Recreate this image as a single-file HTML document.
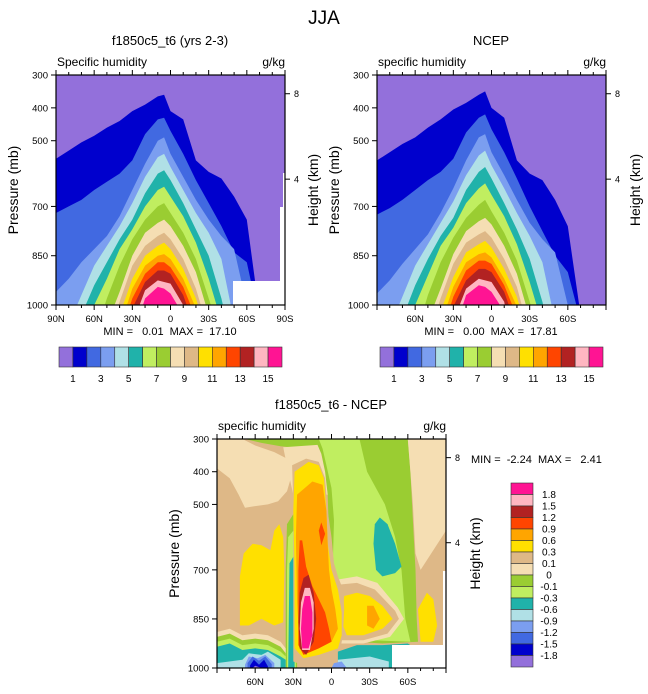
<!DOCTYPE html>
<html><head><meta charset="utf-8">
<style>
html,body{margin:0;padding:0;background:#fff;}
svg{display:block;font-family:"Liberation Sans",Arial,sans-serif;}
text{white-space:pre;}
</style></head>
<body>
<svg id="chart" width="648" height="694" viewBox="0 0 648 694" xmlns="http://www.w3.org/2000/svg">
<text x="324" y="24" font-size="19" text-anchor="middle">JJA</text>
</svg>
<script>
// ---------- data ----------
const lats = [90,80,70,60,50,40,30,20,10,5,0,-10,-20,-30,-40,-50,-60,-70,-80,-90];
const modelLevels = [
 [555,530,505,485,460,440,410,390,365,360,410,435,560,595,615,670,740,1030,1300,1500],
 [720,700,680,650,625,600,560,480,435,430,470,540,620,690,760,840,870,1050,1200,1300],
 [960,920,870,830,790,730,650,570,500,490,540,610,680,740,790,830,1000,1200,1300,1400],
 [1150,1060,970,880,820,760,690,610,550,540,580,650,720,780,860,1050,1200,1400,1400,1400],
 [1300,1200,1030,940,870,800,740,660,600,590,620,690,770,850,980,1150,1300,1400,1400,1400],
 [1400,1300,1150,1000,920,830,770,700,650,640,670,730,810,920,1050,1300,1400,1400,1400,1400],
 [1400,1400,1300,1100,980,880,800,740,700,690,720,780,860,980,1100,1400,1400,1400,1400,1400],
 [1400,1400,1400,1200,1060,960,850,780,750,740,760,820,900,1030,1200,1400,1400,1400,1400,1400],
 [1400,1400,1400,1300,1100,990,880,820,790,780,800,860,950,1080,1300,1400,1400,1400,1400,1400],
 [1400,1400,1400,1400,1150,1030,920,850,820,810,830,890,980,1100,1400,1400,1400,1400,1400,1400],
 [1400,1400,1400,1400,1200,1070,950,880,850,845,860,920,1010,1200,1400,1400,1400,1400,1400,1400],
 [1400,1400,1400,1400,1300,1100,980,905,870,870,885,945,1040,1300,1400,1400,1400,1400,1400,1400],
 [1400,1400,1400,1400,1400,1200,1010,930,895,895,905,970,1080,1400,1400,1400,1400,1400,1400,1400],
 [1400,1400,1400,1400,1400,1300,1060,955,925,930,935,1000,1200,1400,1400,1400,1400,1400,1400,1400],
 [1400,1400,1400,1400,1400,1400,1100,980,945,950,965,1030,1300,1400,1400,1400,1400,1400,1400,1400]
];
const ncepLevels = [
 [560,535,510,490,460,435,405,385,360,350,400,430,560,600,620,680,760,1030,1300,1500],
 [725,705,680,650,620,595,555,475,430,420,465,535,615,700,775,850,900,1050,1200,1300],
 [965,925,875,830,785,720,645,560,490,480,535,605,680,750,800,840,1000,1200,1300,1400],
 [1150,1070,975,880,815,750,685,605,545,530,575,645,720,790,870,1050,1200,1400,1400,1400],
 [1300,1200,1040,940,860,790,735,650,595,580,615,690,770,860,990,1150,1300,1400,1400,1400],
 [1400,1300,1160,1000,910,820,765,690,645,630,665,730,815,930,1060,1300,1400,1400,1400,1400],
 [1400,1400,1300,1100,970,870,795,735,695,680,715,780,865,990,1120,1400,1400,1400,1400,1400],
 [1400,1400,1400,1200,1050,950,845,775,745,735,755,820,905,1040,1200,1400,1400,1400,1400,1400],
 [1400,1400,1400,1300,1100,980,875,810,785,775,795,860,945,1090,1300,1400,1400,1400,1400,1400],
 [1400,1400,1400,1400,1150,1020,915,840,815,805,825,890,975,1110,1400,1400,1400,1400,1400,1400],
 [1400,1400,1400,1400,1200,1060,945,870,845,840,855,920,1005,1200,1400,1400,1400,1400,1400,1400],
 [1400,1400,1400,1400,1300,1100,975,895,865,865,875,940,1035,1300,1400,1400,1400,1400,1400,1400],
 [1400,1400,1400,1400,1400,1200,1005,925,890,890,900,960,1070,1400,1400,1400,1400,1400,1400,1400],
 [1400,1400,1400,1400,1400,1300,1050,950,920,925,930,990,1200,1400,1400,1400,1400,1400,1400,1400],
 [1400,1400,1400,1400,1400,1400,1090,970,940,945,960,1020,1300,1400,1400,1400,1400,1400,1400,1400]
];
const absColors = ["#9370DB","#0000CD","#4169E1","#7B9EF0","#B0E0E6","#20B2AA","#C0EE60","#9ACD32","#F5DEB3","#DEB887","#FFE000","#FFA500","#FF4500","#B22222","#FFB6C1","#FF1493"];
const absLabels = ["1","3","5","7","9","11","13","15"];
const diffColors = ["#FF1493","#FFB6C1","#B22222","#FF4500","#FFA500","#FFE000","#DEB887","#F5DEB3","#9ACD32","#C0EE60","#20B2AA","#B0E0E6","#7B9EF0","#4169E1","#0000CD","#9370DB"];
const diffLabels = ["1.8","1.5","1.2","0.9","0.6","0.3","0.1","0","-0.1","-0.3","-0.6","-0.9","-1.2","-1.5","-1.8"];
const pTicks = [300,400,500,700,850,1000];
const hTicks = [[8,357],[4,617]];
// difference field regions: [colour, [[lat,p],...]]
const diffRegions = [
 ["#F5DEB3",[[90,300],[70,300],[60,320],[45,340],[35,360],[32,420],[35,460],[42,490],[50,500],[60,505],[68,510],[73,470],[80,420],[90,390]]],
 ["#9ACD32",[[68,300],[-60,300],[-62,400],[-64,550],[-66,700],[-67,850],[-68,920],[-40,925],[-20,920],[3,920],[6,880],[1,760],[0,700],[2,600],[3,470],[6,390],[9,345],[20,330],[40,322],[55,312]]],
 ["#C0EE60",[[10,300],[-22,300],[-28,400],[-42,500],[-50,600],[-55,700],[-58,850],[-62,920],[-30,915],[-10,905],[-3,880],[-2,760],[-3,720],[-1,680],[-2,550],[0,450],[4,380],[7,330]]],
 ["#F5DEB3",[[38,325],[11,318],[8,345],[5,400],[3,470],[30,470],[34,400]]],
 ["#F5DEB3",[[-60,300],[-90,300],[-90,580],[-80,640],[-70,700],[-66,650],[-64,500],[-62,400]]],
 ["#20B2AA",[[-34,560],[-38,540],[-44,560],[-50,620],[-55,690],[-50,710],[-40,720],[-35,700],[-33,620]]],
 ["#F5DEB3",[[-4,730],[-20,720],[-36,740],[-52,815],[-57,850],[-46,905],[-25,925],[-4,925]]],
 ["#DEB887",[[-6,745],[-20,740],[-34,760],[-50,825],[-53,850],[-44,895],[-25,915],[-6,915]]],
 ["#FFE000",[[-10,780],[-20,770],[-30,780],[-40,810],[-48,850],[-40,880],[-25,900],[-12,900],[-8,860]]],
 ["#FFA500",[[-28,810],[-33,810],[-38,850],[-33,880],[-28,870]]],
 ["#FFE000",[[72,870],[72,720],[69,650],[62,620],[55,625],[48,640],[45,580],[41,560],[38,600],[37,700],[38,860],[45,870],[55,850],[65,870]]],
 ["#9ACD32",[[35,560],[30,530],[27,600],[27,1000],[36,1000],[36,700]]],
 ["#C0EE60",[[34,600],[30,580],[28,650],[28,1000],[35,1000],[35,700]]],
 ["#20B2AA",[[33,680],[30,660],[29,720],[29,1000],[34,1000]]],
 ["#DEB887",[[31,380],[20,360],[10,370],[5,420],[3,520],[0,600],[-2,680],[-5,720],[-9,760],[-10,820],[-9,900],[-6,960],[0,985],[20,995],[30,980],[30,700],[30,500]]],
 ["#FFE000",[[29,400],[18,370],[10,380],[6,420],[4,520],[3,620],[0,700],[-5,760],[-8,830],[-8,900],[-5,940],[10,960],[22,970],[29,940],[29,700],[30,520]]],
 ["#FFA500",[[27,470],[15,430],[7,440],[4,520],[3,620],[2,700],[0,760],[-3,820],[-5,880],[0,920],[15,940],[25,940],[27,800],[28,600]]],
 ["#FF4500",[[25,610],[23,610],[20,690],[15,750],[10,790],[5,830],[2,880],[0,920],[10,940],[22,960],[26,930],[26,700]]],
 ["#FF4500",[[10,580],[8,555],[5,590],[8,625]]],
 ["#B22222",[[22,725],[18,715],[14,770],[12,850],[14,920],[20,960],[25,940],[26,860],[25,770]]],
 ["#FFB6C1",[[21,755],[17,755],[14,800],[14,880],[17,945],[23,945],[25,880],[24,800]]],
 ["#FF1493",[[21,780],[17,780],[15,830],[15,900],[18,940],[23,940],[24,880],[23,820]]],
 ["#F5DEB3",[[90,890],[80,880],[70,900],[60,895],[50,900],[40,920],[36,940],[36,1000],[90,1000]]],
 ["#9ACD32",[[90,905],[80,895],[70,915],[60,910],[50,915],[40,935],[36,955],[36,1000],[90,1000]]],
 ["#C0EE60",[[90,920],[80,910],[70,930],[60,925],[50,930],[40,950],[36,965],[36,1000],[90,1000]]],
 ["#20B2AA",[[90,935],[80,925],[70,945],[60,940],[50,945],[40,965],[36,975],[36,1000],[90,1000]]],
 ["#B0E0E6",[[90,985],[70,975],[65,955],[55,960],[50,950],[40,975],[40,1000],[90,1000]]],
 ["#7B9EF0",[[68,990],[65,965],[58,970],[52,960],[45,985],[45,1000],[68,1000]]],
 ["#4169E1",[[66,985],[62,965],[57,978],[52,965],[47,988],[47,1000],[66,1000]]],
 ["#0000CD",[[64,992],[61,975],[57,990],[53,975],[50,995],[50,1000],[64,1000]]],
 ["#9370DB",[[62,1000],[60,993],[55,1000]]],
 ["#20B2AA",[[-5,950],[-20,930],[-40,930],[-60,925],[-66,940],[-66,1000],[-5,1000]]],
 ["#B0E0E6",[[-5,975],[-30,965],[-45,980],[-45,1000],[-5,1000]]],
 ["#7B9EF0",[[-2,985],[-8,980],[-12,1000],[0,1000]]],
 ["#FFE000",[[-68,820],[-75,770],[-80,790],[-83,870],[-80,920],[-70,920]]]
];

// ---------- drawing ----------
const NS = "http://www.w3.org/2000/svg";
const svg = document.getElementById("chart");
const defs = document.createElementNS(NS, "defs");
svg.appendChild(defs);
function mk(tag, attrs, parent, text){
  const e = document.createElementNS(NS, tag);
  for (const k in attrs) e.setAttribute(k, attrs[k]);
  if (text !== undefined) e.textContent = text;
  (parent || svg).appendChild(e);
  return e;
}
function makeAxes(ox, oy, w, h){
  return { x: lat => ox + (90 - lat) / 180 * w, y: p => oy + (p - 300) / 700 * h };
}
function makeClip(id, ox, oy, w, h){
  const c = mk("clipPath", {id: id}, defs);
  mk("rect", {x: ox, y: oy, width: w, height: h}, c);
}
function drawLevels(g, ax, levels){
  levels.forEach((lev, k) => {
    let pts = lats.map((la, i) => ax.x(la).toFixed(1) + "," + ax.y(lev[i]).toFixed(1));
    pts.push(ax.x(-90) + "," + ax.y(1500));
    pts.push(ax.x(90) + "," + ax.y(1500));
    const poly = mk("polygon", {points: pts.join(" "), fill: absColors[k + 1]}, g);
    
    
  });
}
function drawFrame(ax, ox, oy, w, h, latLabels, rightLabelX){
  const g = mk("g", {});
  
  
  mk("rect", {x: ox, y: oy, width: w, height: h, fill: "none", stroke: "#000", "stroke-width": 1.2}, g);
  for (let la = 90; la >= -90; la -= 10){
    const major = la % 30 === 0;
    const len = major ? 5 : 3;
    mk("line", {x1: ax.x(la), x2: ax.x(la), y1: oy + h, y2: oy + h + len, stroke: "#000"}, g);
    mk("line", {x1: ax.x(la), x2: ax.x(la), y1: oy, y2: oy - len, stroke: "#000"}, g);
  }
  latLabels.forEach(la => {
    const t = la === 0 ? "0" : (la > 0 ? la + "N" : (-la) + "S");
    const tx = mk("text", {x: ax.x(la), y: oy + h + 17, "font-size": 9.5, "text-anchor": "middle"}, g, t);
    
    
  });
  pTicks.forEach(p => {
    mk("line", {x1: ox - 5, x2: ox, y1: ax.y(p), y2: ax.y(p), stroke: "#000"}, g);
    const tx = mk("text", {x: ox - 8, y: ax.y(p) + 3.5, "font-size": 9.5, "text-anchor": "end"}, g, String(p));
    
    
  });
  hTicks.forEach(hv => {
    mk("line", {x1: ox + w, x2: ox + w + 5, y1: ax.y(hv[1]), y2: ax.y(hv[1]), stroke: "#000"}, g);
    const tx = mk("text", {x: ox + w + 9, y: ax.y(hv[1]) + 3.5, "font-size": 9}, g, String(hv[0]));
    
    
  });
  const yl = mk("text", {x: 0, y: 0, "font-size": 14, "text-anchor": "middle", transform: `translate(${ox - 38},${oy + h / 2}) rotate(-90)`}, g, "Pressure (mb)");
  
  
  const hl = mk("text", {x: 0, y: 0, "font-size": 14, "text-anchor": "middle", transform: `translate(${rightLabelX},${oy + h / 2}) rotate(-90)`}, g, "Height (km)");
  
  
}
function hColorbar(x0, y0, w, h, name){
  const g = mk("g", {});
  
  
  const bw = w / absColors.length;
  absColors.forEach((c, i) => {
    const r = mk("rect", {x: x0 + i * bw, y: y0, width: bw, height: h, fill: c, stroke: "#333", "stroke-width": 0.6}, g);
    
    
  });
  absLabels.forEach((l, j) => {
    const i = 2 * j + 1;
    const t = mk("text", {x: x0 + i * bw, y: y0 + h + 15, "font-size": 10, "text-anchor": "middle"}, g, l);
    
    
  });
}
function panelTexts(cx, ox, w, oy, title, sub){
  const t1 = mk("text", {x: cx, y: oy - 30, "font-size": 13, "text-anchor": "middle"}, svg, title);
  
  
  const t2 = mk("text", {x: ox + 1, y: oy - 9, "font-size": 12}, svg, sub);
  
  
  const t3 = mk("text", {x: ox + w, y: oy - 9, "font-size": 12, "text-anchor": "end"}, svg, "g/kg");
  
  
}

// Panel 1: model
(function(){
  const ox = 56, oy = 75, w = 229, h = 230;
  const ax = makeAxes(ox, oy, w, h);
  makeClip("clip1", ox, oy, w, h);
  const g = mk("g", {"clip-path": "url(#clip1)"});
  
  
  mk("rect", {x: ox, y: oy, width: w, height: h, fill: absColors[0]}, g);
  drawLevels(g, ax, modelLevels);
  mk("rect", {x: 283, y: 173, width: 2, height: 110, fill: "#fff"}, g);
  mk("rect", {x: 280, y: 207, width: 5, height: 76, fill: "#fff"}, g);
  mk("rect", {x: 233, y: 281, width: 52, height: 24, fill: "#fff"}, g);
  drawFrame(ax, ox, oy, w, h, [90,60,30,0,-30,-60,-90], 318);
  panelTexts(170, ox, w, oy, "f1850c5_t6 (yrs 2-3)", "Specific humidity");
  const m = mk("text", {x: 170, y: 335, "font-size": 11, "text-anchor": "middle"}, svg, "MIN =   0.01  MAX =  17.10");
  
  
  hColorbar(59, 347, 223, 20, 'model-colorbar');
})();

// Panel 2: NCEP
(function(){
  const ox = 377, oy = 75, w = 229, h = 230;
  const ax = makeAxes(ox, oy, w, h);
  makeClip("clip2", ox, oy, w, h);
  const g = mk("g", {"clip-path": "url(#clip2)"});
  
  
  mk("rect", {x: ox, y: oy, width: w, height: h, fill: absColors[0]}, g);
  drawLevels(g, ax, ncepLevels);
  drawFrame(ax, ox, oy, w, h, [60,30,0,-30,-60], 640);
  panelTexts(491, ox, w, oy, "NCEP", "specific humidity");
  const m = mk("text", {x: 491, y: 335, "font-size": 11, "text-anchor": "middle"}, svg, "MIN =   0.00  MAX =  17.81");
  
  
  hColorbar(380, 347, 223, 20, 'ncep-colorbar');
})();

// Panel 3: difference
(function(){
  const ox = 217, oy = 439, w = 229, h = 229;
  const ax = makeAxes(ox, oy, w, h);
  makeClip("clip3", ox, oy, w, h);
  const g = mk("g", {"clip-path": "url(#clip3)"});
  
  
  mk("rect", {x: ox, y: oy, width: w, height: h, fill: "#DEB887"}, g);
  diffRegions.forEach(r => {
    const pts = r[1].map(pt => ax.x(pt[0]).toFixed(1) + "," + ax.y(pt[1]).toFixed(1)).join(" ");
    const poly = mk("polygon", {points: pts, fill: r[0]}, g);
    
    
  });
  mk("rect", {x: 443, y: 571, width: 3, height: 97, fill: "#fff"}, g);
  mk("rect", {x: 392, y: 645, width: 54, height: 23, fill: "#fff"}, g);
  drawFrame(ax, ox, oy, w, h, [60,30,0,-30,-60], 480);
  panelTexts(331, ox, w, oy, "f1850c5_t6 - NCEP", "specific humidity");
  const m = mk("text", {x: 471, y: 463, "font-size": 11}, svg, "MIN =  -2.24  MAX =   2.41");
  
  
  const cg = mk("g", {});
  
  
  const x0 = 511, y0 = 483, bw = 22, bh = 184 / 16;
  diffColors.forEach((c, i) => {
    const r = mk("rect", {x: x0, y: y0 + i * bh, width: bw, height: bh, fill: c, stroke: "#333", "stroke-width": 0.6}, cg);
    
    
  });
  diffLabels.forEach((l, i) => {
    const t = mk("text", {x: x0 + bw + 16, y: y0 + (i + 1) * bh + 3.5, "font-size": 10, "text-anchor": "middle"}, cg, l);
    
    
  });
})();
</script>
</body></html>
